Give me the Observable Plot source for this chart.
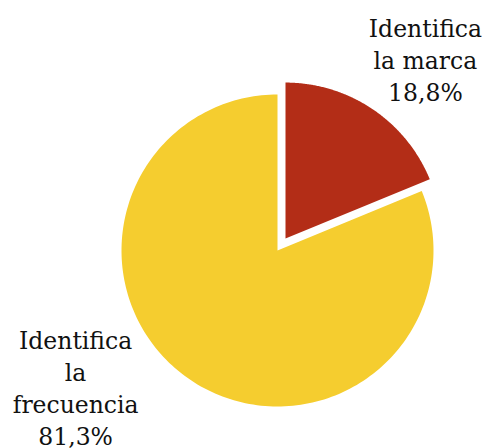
<!DOCTYPE html>
<html>
<head>
<meta charset="utf-8">
<script src="https://cdn.jsdelivr.net/npm/d3@7"></script>
<script src="https://cdn.jsdelivr.net/npm/@observablehq/plot@0.6"></script>
<style>
  body { margin: 0; background: #fff; }
</style>
</head>
<body>
<div id="chart"></div>
<script>
const categories = ["Identifica la marca", "Identifica la frecuencia"];
const values = [18.8, 81.3];
const labels = ["Identifica\nla marca\n18,8%", "Identifica\nla\nfrecuencia\n81,3%"];

const W = 489, H = 448;
const cx = 277, cy = 250, R = 156; // layout in pixels
const explodeDist = [0.092, 0];
const labelRadius = [1.554, 1.561];
const labelAngle = [37.6, 236.0]; // degrees clockwise from top

const data = categories.map((c, i) => ({category: c, value: values[i], label: labels[i]}));
const arcs = d3.pie().sort(null).value(d => d.value)(data);

const pts = [];
arcs.forEach((a, i) => {
  const mid = (a.startAngle + a.endAngle) / 2;
  const ox = explodeDist[i] * Math.sin(mid), oy = explodeDist[i] * Math.cos(mid);
  pts.push({category: a.data.category, x: ox, y: oy});
  const n = 200;
  for (let k = 0; k <= n; k++) {
    const t = a.startAngle + (a.endAngle - a.startAngle) * k / n;
    pts.push({category: a.data.category, x: ox + Math.sin(t), y: oy + Math.cos(t)});
  }
  pts.push({category: a.data.category, x: ox, y: oy});
});

const labelData = arcs.map((a, i) => {
  const ang = labelAngle[i] * Math.PI / 180;
  return {label: a.data.label, x: labelRadius[i] * Math.sin(ang), y: labelRadius[i] * Math.cos(ang)};
});

const chart = Plot.plot({
  width: W,
  height: H,
  margin: 0,
  x: {domain: [-cx / R, (W - cx) / R], axis: null},
  y: {domain: [-(H - cy) / R, cy / R], axis: null},
  color: {domain: categories, range: ["#b32d17", "#f5cd2f"]},
  style: {background: "#fff"},
  marks: [
    Plot.line(pts, {x: "x", y: "y", z: "category", fill: "category", stroke: null}),
    Plot.text(labelData, {
      x: "x", y: "y", text: "label",
      fontSize: 23.5, lineHeight: 1.37,
      fontFamily: "'DejaVu Serif', serif",
      textAnchor: "middle", lineAnchor: "middle",
      fill: "#111"
    })
  ]
});
document.getElementById("chart").append(chart);
</script>
</body>
</html>
